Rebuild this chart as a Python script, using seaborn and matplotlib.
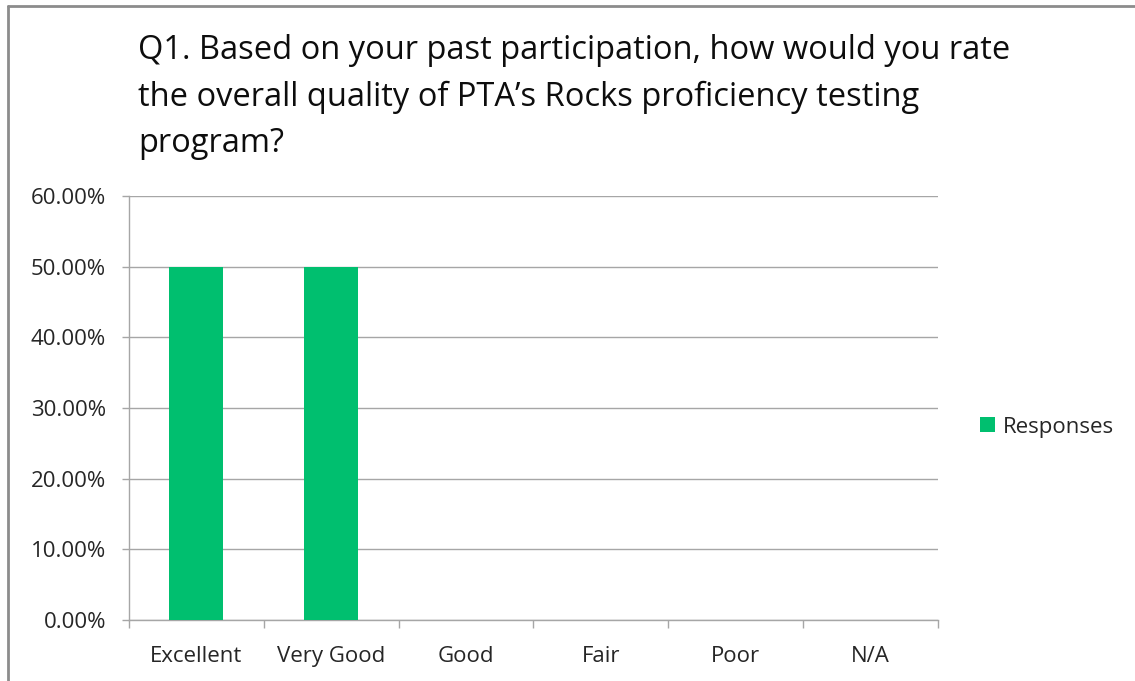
import matplotlib
matplotlib.use("Agg")
import matplotlib.pyplot as plt
import seaborn as sns
import pandas as pd
from matplotlib.lines import Line2D
from matplotlib.patches import Patch

categories = ["Excellent", "Very Good", "Good", "Fair", "Poor", "N/A"]
responses = [50.0, 50.0, 0.0, 0.0, 0.0, 0.0]
yticks = [0, 10, 20, 30, 40, 50, 60]
title = "Q1. Based on your past participation, how would you rate\nthe overall quality of PTA\u2019s Rocks proficiency testing\nprogram?"

sns.set_theme(style="white")
plt.rcParams['font.family'] = ['Open Sans', 'DejaVu Sans']

df = pd.DataFrame({"Category": categories, "Responses": responses})

fig = plt.figure(figsize=(11.35, 6.81), dpi=100)
ax = fig.add_axes([129/1135, 1-620/681, (938-129)/1135, (620-196)/681])

green = "#00BF6F"
grid_c = "#A6A6A6"
sns.barplot(data=df, x="Category", y="Responses", color=green, width=0.4,
            ax=ax, saturation=1, zorder=3, linewidth=0)

ax.set_xlim(-0.5, 5.5)
ax.set_ylim(0, 60)
ax.set_yticks(yticks)
ax.set_yticklabels([f"{v:.2f}%" for v in yticks], fontsize=16, color="#262626")
ax.yaxis.grid(True, color=grid_c, linewidth=1, zorder=0)
ax.xaxis.grid(False)
ax.set_xlabel("")
ax.set_ylabel("")

ax.set_xticks(range(len(categories)))
ax.set_xticklabels(categories, fontsize=16, color="#262626")
ax.set_xticks([i - 0.5 for i in range(len(categories) + 1)], minor=True)
ax.tick_params(axis="x", which="major", length=0, pad=19)
ax.tick_params(axis="x", which="minor", length=5.5, width=1, color=grid_c, direction="out", bottom=True)
ax.tick_params(axis="y", which="major", length=5, width=1, color=grid_c, direction="out", left=True, pad=11.5)

for s in ["top", "right"]:
    ax.spines[s].set_visible(False)
for s in ["left", "bottom"]:
    ax.spines[s].set_color(grid_c)
    ax.spines[s].set_linewidth(1)

fig.text(138/1135, 1-34/681, title, fontsize=23.5, color="#0d0d0d", ha="left", va="top",
         linespacing=1.53)

handles = [Patch(facecolor=green, edgecolor="none", label="Responses")]
fig.legend(handles=handles, loc="center left", bbox_to_anchor=(980/1135, 1-427/681),
           frameon=False, fontsize=16, handlelength=0.68, handleheight=0.68,
           handletextpad=0.35, borderpad=0, borderaxespad=0, labelcolor="#262626")

# outer border (top and left only visible)
fig.add_artist(Line2D([8/1135, 8/1135], [0, 1-6/681], transform=fig.transFigure, color="#8c8c8c", lw=2))
fig.add_artist(Line2D([8/1135, 1], [1-6/681, 1-6/681], transform=fig.transFigure, color="#8c8c8c", lw=2))

fig.savefig("out.png", dpi=100, facecolor="white")
